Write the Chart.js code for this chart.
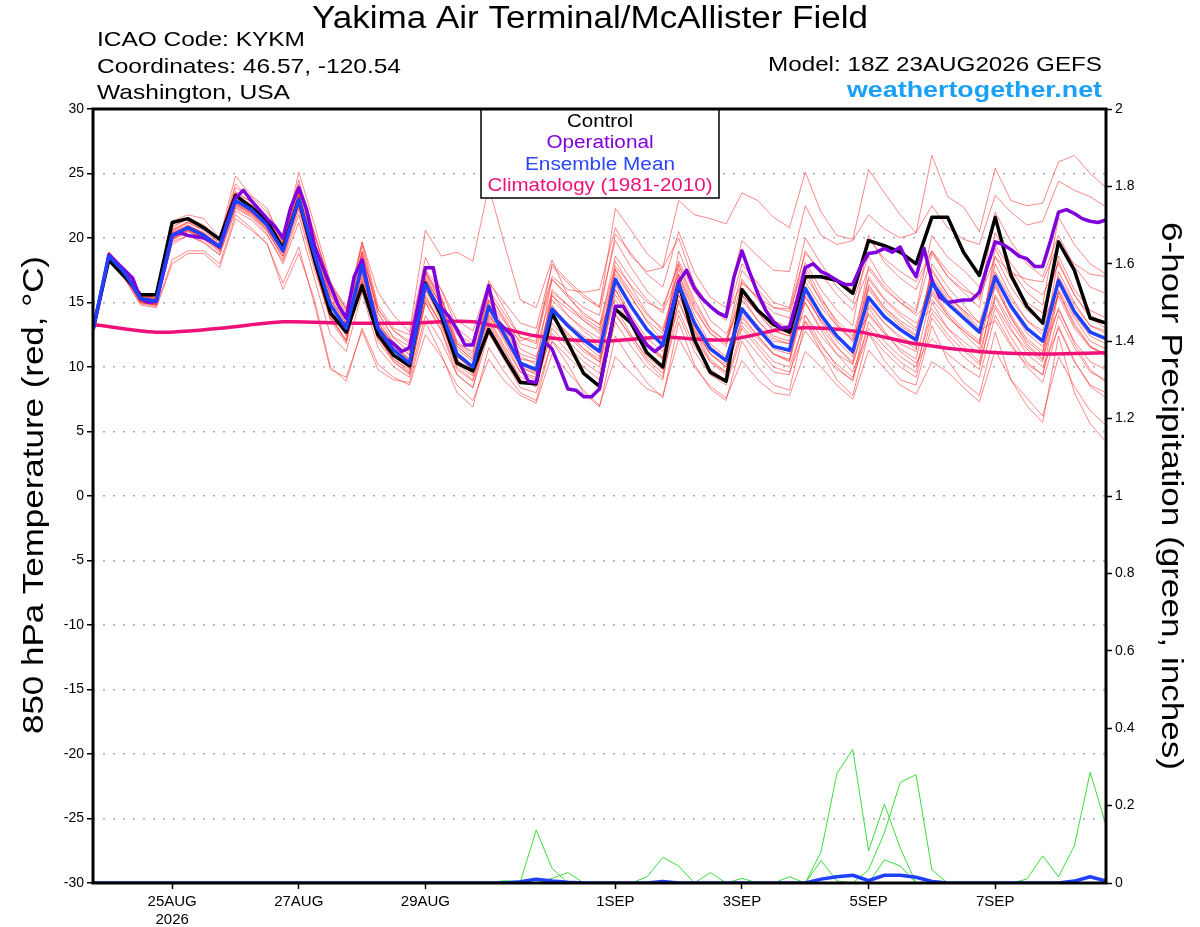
<!DOCTYPE html>
<html>
<head>
<meta charset="utf-8">
<title>KYKM GEFS 850 hPa</title>
<script src="https://cdn.jsdelivr.net/npm/chart.js@4.4.1/dist/chart.umd.min.js"></script>
<style>
  html, body { margin: 0; padding: 0; background: #fff; }
  #wrap { width: 1200px; height: 927px; }
</style>
</head>
<body>
<div id="wrap"><canvas id="chart" width="1200" height="927"></canvas></div>
<script>
// x axis: forecast hours from 18Z 23AUG2026
const tickHours = [30, 78, 126, 198, 246, 294, 342];
const tickLabels = [['25AUG', '2026'], '27AUG', '29AUG', '1SEP', '3SEP', '5SEP', '7SEP'];

// 850 hPa temperature (C), every 6 h
const control = [12.9, 18.3,17.0,15.6,15.6, 21.2,21.5,20.8,19.9, 23.3,22.4,21.3,19.2, 23.0,18.3,14.2,12.7,
  16.3,12.5,10.9,10.1, 16.5,14.0,10.3,9.7, 12.9,10.8,8.8,8.7, 14.2,11.9,9.5,8.5,
  14.5,13.4,11.1,10.0, 16.5,12.1,9.6,8.9, 16.0,14.4,13.3,12.7, 17.0,17.0,16.7,15.7,
  19.8,19.4,18.9,18.0, 21.6,21.6,18.9,17.1, 21.6,17.1,14.7,13.4, 19.7,17.5,13.8,13.4];

const ensMean = [12.9, 18.6,17.3,15.3,15.1, 20.2,20.8,20.2,19.3, 22.9,22.2,21.0,19.0, 23.0,18.7,14.8,13.0,
  17.9,13.0,11.3,10.3, 16.4,14.3,11.0,10.0, 14.7,12.5,10.3,9.8, 14.5,13.2,12.1,11.2,
  16.8,14.7,12.9,11.7, 16.4,13.4,11.4,10.5, 14.5,13.0,11.6,11.3, 16.1,14.0,12.4,11.2,
  15.4,13.9,12.9,12.1, 16.5,14.9,13.8,12.7, 17.0,14.7,13.0,12.0, 16.7,14.3,12.7,12.2];

// operational run, every 3 h
const operational = [12.9,15.7,18.7,18.1,17.5,16.9,15.3,15.0,15.1,17.6,
  20.2,20.4,20.2,20.1,20.0,19.7,19.3,21.3,23.1,23.7,
  22.9,22.2,21.5,20.9,20.0,22.4,23.9,22.2,19.4,17.8,
  16.3,14.8,13.8,17.0,18.3,15.3,13.0,12.2,11.8,11.2,
  11.5,14.6,17.7,17.7,14.6,13.9,12.9,11.7,11.7,14.0,
  16.3,13.6,13.0,12.4,10.2,8.9,8.8,12.0,11.4,9.9,
  8.3,8.2,7.7,7.7,8.3,11.5,14.7,14.7,13.6,12.6,
  11.7,11.2,11.7,14.2,16.6,17.5,16.1,15.3,14.7,14.2,
  13.9,17.0,19.0,17.3,15.7,14.4,13.5,13.0,13.1,15.3,
  17.7,18.0,17.4,17.1,16.7,16.4,16.4,17.8,18.8,18.9,
  19.2,18.9,19.3,18.0,17.0,19.2,16.7,15.4,15.0,15.1,
  15.2,15.2,15.8,17.8,19.7,19.5,19.1,18.6,18.4,17.8,
  17.8,19.8,22.0,22.2,21.9,21.5,21.3,21.2,21.4];

// climatology (1981-2010), daily
const climatology = [13.3, 12.7, 13.0, 13.5, 13.4, 13.4, 13.5, 12.4, 12.0, 12.3, 12.1, 13.0, 12.8, 11.8, 11.2, 11.0, 11.1];

// ensemble members, every 6 h
const memberA = [12.9, 18.8,17.5,15.6,15.4, 20.5,21.2,20.6,19.6, 23.5,22.8,21.6,19.8, 23.8,20.2,16.5,14.4,
  18.8,14.5,12.8,12.0, 17.5,16.0,13.6,12.8, 16.5,15.0,13.4,13.0, 17.8,16.5,15.4,14.6,
  22.3,20.6,18.8,17.7, 22.9,21.8,21.5,21.1, 23.5,22.9,21.6,20.8, 25.1,22.0,20.2,19.9,
  25.3,23.5,21.8,20.4, 26.4,23.2,22.4,20.5, 25.4,22.9,22.5,22.7, 25.9,26.4,25.0,23.9];
const memberB = [12.9, 18.9,17.6,15.5,15.3, 20.7,21.6,21.0,19.9, 24.2,22.9,21.4,19.6, 24.0,19.5,15.6,13.9,
  18.9,14.2,12.3,11.6, 17.3,15.2,12.5,11.8, 16.0,14.1,12.3,12.0, 16.8,15.6,14.6,14.0,
  20.3,18.8,17.2,16.2, 20.5,17.3,15.4,14.6, 19.8,18.6,17.5,17.4, 22.5,20.2,19.5,19.8,
  21.8,20.7,20.0,20.4, 22.5,20.8,19.9,19.5, 23.3,22.0,21.0,21.3, 24.4,23.7,23.2,22.4];
const memberC = [13.0, 18.4,17.0,15.1,14.9, 20.0,20.6,20.0,19.0, 22.6,21.9,20.7,18.8, 22.7,18.5,15.2,13.6,
  19.7,15.8,14.0,12.7, 20.6,18.6,18.9,18.2, 24.0,19.5,15.2,14.6, 18.3,15.5,14.0,13.3,
  17.8,16.3,15.0,14.4, 18.2,15.8,14.6,14.0, 16.5,15.4,14.6,14.5, 18.8,17.5,16.6,16.0,
  20.2,18.1,16.9,16.0, 19.0,17.0,16.0,15.4, 18.5,17.3,16.8,16.6, 19.6,18.0,17.2,17.0];
const memberD = [12.8, 18.3,16.9,14.8,14.6, 18.0,18.8,18.8,17.7, 21.5,20.6,19.6,16.0, 18.8,15.2,10.0,8.9,
  13.0,10.2,9.2,8.6, 12.5,10.8,8.6,7.4, 10.6,8.9,7.8,7.2, 11.0,9.6,8.2,7.0,
  10.8,9.5,8.3,7.8, 12.2,10.0,8.5,7.6, 10.5,9.0,8.0,7.8, 11.2,10.0,8.6,7.5,
  11.3,9.9,8.6,7.9, 10.4,9.6,8.4,7.3, 11.3,9.0,7.6,6.2, 10.8,8.5,6.6,5.5];
const memberE = [12.8, 18.2,16.8,14.9,14.7, 18.3,19.0,19.0,18.0, 21.8,20.8,19.5,16.5, 19.3,14.8,9.8,9.2,
  12.8,9.8,9.0,8.8, 13.5,11.0,8.0,6.9, 11.5,9.6,8.0,7.4, 12.0,10.2,8.0,6.9,
  12.4,10.5,8.8,7.6, 13.5,10.2,8.3,7.4, 12.0,10.0,8.6,8.2, 13.5,11.2,9.0,7.8,
  12.6,10.5,9.0,8.6, 13.2,10.5,8.8,7.8, 12.7,9.0,7.0,5.7, 12.4,8.0,5.6,4.2];
const memberF = [12.9, 18.9,17.6,15.6,15.4, 20.9,21.5,20.9,20.0, 23.9,23.2,22.0,20.0, 24.5,20.2,16.3,14.5,
  19.4,14.5,12.8,11.8, 17.4,15.3,12.0,11.0, 16.7,14.5,12.3,11.8, 18.0,16.7,15.6,14.7,
  19.8,17.7,15.9,14.7, 17.9,14.9,12.9,12.0, 17.5,16.0,14.6,14.3, 18.1,16.0,14.4,13.2,
  19.9,18.4,17.4,16.6, 19.0,17.4,16.3,15.2, 22.0,19.7,18.0,17.0, 20.2,17.8,16.2,15.7];
const memberG = [12.9, 18.4,17.1,15.0,14.8, 19.5,20.2,19.6,18.7, 22.1,21.4,20.2,18.2, 21.8,17.5,13.8,12.1,
  16.6,12.0,10.4,9.5, 15.0,12.9,9.8,8.9, 13.2,11.0,8.9,8.5, 13.0,11.6,10.4,9.5,
  14.6,12.5,10.6,9.5, 14.0,11.2,9.4,8.6, 12.5,11.0,9.6,9.4, 14.0,11.8,10.0,8.9,
  13.5,12.0,10.8,10.0, 14.2,12.5,11.3,10.2, 14.6,12.3,10.4,9.4, 14.0,11.5,9.6,9.0];
const memberH = [12.9, 18.7,17.4,15.4,15.2, 20.4,21.0,20.4,19.5, 23.3,22.6,21.4,19.5, 23.6,19.3,15.5,13.6,
  18.6,13.5,11.5,10.6, 16.0,13.6,10.2,9.3, 13.6,11.4,9.0,8.5, 15.5,14.5,13.6,12.8,
  17.5,15.5,13.5,12.0, 18.0,15.2,13.0,12.0, 15.5,13.6,12.2,11.8, 17.5,15.0,13.2,12.0,
  14.0,12.6,11.8,11.2, 18.0,16.2,14.8,13.4, 16.2,13.8,12.0,11.0, 18.6,16.0,14.4,13.8];
const memberI = [12.9, 18.5,17.2,15.2,15.0, 20.0,20.6,20.0,19.1, 22.6,21.9,20.6,18.6, 22.5,18.2,14.2,12.4,
  17.5,12.6,10.8,9.9, 16.8,14.8,11.4,10.4, 15.8,13.6,11.4,10.8, 13.8,12.4,11.2,10.4,
  15.6,13.6,11.8,10.8, 15.0,12.2,10.4,9.6, 15.6,14.2,12.8,12.4, 15.0,13.0,11.5,10.4,
  16.4,14.6,13.4,12.5, 15.6,14.0,12.8,11.8, 18.0,15.5,13.6,12.5, 15.5,13.0,11.5,11.0];
const memberJ = [12.9, 18.6,17.3,15.3,15.1, 20.3,20.9,20.3,19.4, 22.8,22.1,20.8,19.0, 23.3,19.0,15.0,13.2,
  17.2,12.8,11.0,10.0, 15.6,13.2,10.5,9.6, 14.2,12.0,9.6,9.2, 16.0,14.8,13.6,12.6,
  16.0,13.8,11.9,10.7, 16.5,13.0,11.0,10.0, 13.5,12.2,11.0,10.5, 15.5,13.6,12.0,10.8,
  17.0,15.3,14.2,13.4, 14.5,13.0,12.0,11.0, 15.6,13.4,11.6,10.6, 17.4,15.0,13.2,12.6];
const memberK = [12.9, 18.5,17.1,15.1,14.9, 19.7,20.2,19.7,18.7, 22.3,21.6,20.3,18.0, 21.2,16.8,12.5,11.2,
  15.8,11.5,10.0,9.2, 14.0,12.0,9.4,8.4, 12.6,10.5,8.4,8.0, 12.0,10.8,9.6,8.6,
  13.5,11.6,10.0,9.0, 15.2,12.2,9.8,8.8, 13.0,11.5,10.0,9.6, 12.8,11.2,9.8,9.0,
  14.6,12.8,11.2,10.3, 12.2,11.0,10.0,9.2, 14.0,11.8,10.0,8.8, 13.2,10.5,8.5,7.6];
const memberL = [13.0, 18.8,17.5,15.6,15.3, 21.3,21.8,21.5,20.0, 24.8,23.3,22.3,19.6, 25.1,21.0,16.6,14.6,
  19.7,14.8,13.0,12.5, 18.5,16.0,13.0,12.0, 15.2,13.5,12.0,12.5, 17.0,16.0,15.8,16.0,
  20.8,18.6,17.4,17.7, 20.0,16.4,14.6,13.6, 18.0,16.5,15.0,14.6, 20.0,18.0,16.2,15.0,
  18.6,16.5,15.3,14.4, 20.2,18.5,17.5,16.2, 19.5,17.5,15.8,14.8, 21.6,19.5,18.0,17.2];
const memberM = [12.9, 18.6,17.3,15.3,15.0, 19.8,20.5,20.0,19.2, 23.0,22.0,20.8,18.9, 22.8,18.2,14.0,12.0,
  18.4,13.8,11.9,10.9, 17.2,15.0,11.6,10.6, 14.0,12.2,10.0,9.5, 14.8,13.2,11.8,10.8,
  18.2,16.2,14.2,12.8, 16.0,12.8,10.6,9.6, 14.6,13.2,12.0,11.8, 16.6,14.6,13.2,12.2,
  15.0,13.4,12.2,11.4, 17.6,15.6,14.4,13.0, 14.8,12.8,11.4,10.4, 16.0,13.8,12.0,11.4];
const memberN = [12.9, 18.4,17.0,15.0,14.8, 20.1,20.7,20.1,19.2, 22.7,22.0,20.9,19.2, 22.4,18.0,14.4,12.6,
  17.0,12.4,10.6,9.6, 15.4,13.3,10.0,9.0, 13.0,10.8,8.8,8.6, 14.0,12.6,11.4,10.4,
  14.0,12.4,10.8,9.8, 17.2,14.0,11.8,10.8, 14.0,12.4,11.0,10.4, 15.0,12.8,11.0,9.6,
  13.0,11.6,10.4,9.6, 15.0,13.0,11.6,10.4, 16.4,13.8,11.8,10.6, 14.6,11.8,9.8,8.8];
const memberO = [12.9, 18.7,17.3,15.2,15.0, 20.3,20.8,20.3,19.3, 23.0,22.3,21.1,19.3, 23.2,19.0,15.2,13.4,
  18.2,13.2,11.6,10.6, 17.0,14.8,11.6,10.6, 15.2,13.0,11.0,10.6, 15.2,14.0,13.0,12.2,
  17.2,15.4,13.6,12.6, 17.6,14.6,12.6,11.6, 16.0,14.4,13.0,12.6, 17.0,15.2,13.6,12.4,
  16.8,15.2,14.0,13.0, 17.0,15.4,14.4,13.4, 17.4,15.2,13.6,12.8, 17.0,14.8,13.2,12.8];
const memberP = [12.9, 18.9,17.6,15.5,15.2, 20.6,21.2,20.6,19.6, 23.5,22.5,21.2,19.4, 23.9,19.6,15.8,14.0,
  16.6,12.2,10.6,9.8, 15.2,13.4,10.8,10.0, 14.0,12.4,10.6,10.4, 16.8,15.4,14.2,13.3,
  15.2,13.2,11.6,10.6, 15.6,12.8,11.0,10.2, 15.2,13.6,12.4,12.0, 17.8,15.4,13.4,12.0,
  16.2,14.6,13.6,12.8, 16.0,14.2,13.0,12.0, 18.6,16.2,14.4,13.4, 16.4,14.0,12.4,11.8];
const memberQ = [12.9, 18.5,17.2,15.2,15.0, 20.2,20.9,20.4,19.4, 22.9,22.3,21.0,19.2, 22.9,18.9,15.2,13.4,
  18.0,13.2,11.4,10.5, 16.0,14.0,10.8,9.8, 14.4,12.2,10.0,9.4, 13.4,12.0,10.8,10.0,
  16.4,14.0,12.2,11.2, 14.4,11.6,9.8,9.0, 16.8,15.2,13.6,13.0, 14.0,12.4,11.0,10.2,
  14.8,13.4,12.4,11.6, 16.8,15.2,14.0,12.8, 13.6,11.6,10.2,9.4, 15.8,13.2,11.6,11.0];
const memberR = [12.9, 18.6,17.2,15.1,14.9, 20.1,20.7,20.1,19.1, 23.1,22.4,21.2,19.1, 23.4,18.6,14.4,12.7,
  18.2,13.4,11.8,10.6, 17.4,15.5,11.8,10.8, 15.0,12.6,10.2,9.6, 15.6,14.0,12.8,11.8,
  17.6,15.8,14.0,13.0, 17.0,13.6,11.6,10.6, 15.6,14.2,12.8,12.4, 16.2,14.0,12.4,11.0,
  16.0,14.4,13.2,12.4, 17.4,15.6,14.2,12.8, 16.6,14.0,12.2,11.2, 15.8,13.4,11.6,10.8];
const memberS = [12.9, 18.7,17.4,15.4,15.1, 20.4,21.0,20.3,19.4, 22.7,22.0,20.9,19.1, 23.5,19.2,15.6,13.8,
  19.0,14.2,12.2,11.2, 16.4,14.0,10.8,9.8, 14.8,12.8,10.8,10.2, 14.6,13.4,12.4,11.6,
  16.6,14.6,12.8,11.6, 19.0,16.0,13.6,12.6, 14.2,12.8,11.4,11.0, 15.4,13.6,12.2,11.4,
  17.8,16.2,15.0,14.0, 15.2,13.8,12.8,11.8, 19.2,16.8,15.0,14.2, 18.2,15.6,13.8,13.0];
const memberT = [12.9, 18.5,17.1,15.2,15.0, 19.9,20.6,20.1,19.2, 22.5,21.8,20.6,18.4, 22.2,17.8,13.6,11.8,
  17.6,12.8,11.0,10.1, 16.2,14.2,10.6,9.4, 13.8,11.6,9.6,9.0, 13.8,12.6,11.4,10.6,
  16.0,13.8,11.8,10.6, 15.6,12.6,10.4,9.4, 13.8,12.4,11.0,10.6, 15.8,13.4,11.6,10.2,
  14.2,12.6,11.4,10.6, 15.8,14.0,12.6,11.4, 17.2,14.6,12.6,11.6, 14.4,12.0,10.4,9.8];
const memberU = [12.9, 18.8,17.5,15.5,15.3, 20.6,21.3,20.8,19.8, 23.6,22.8,21.5,19.7, 24.2,20.4,16.2,14.2,
  18.0,13.4,11.8,11.0, 16.8,14.8,11.8,11.2, 15.6,13.8,11.8,11.4, 15.8,14.8,13.8,13.0,
  18.6,16.8,15.2,14.2, 17.2,14.4,12.6,11.8, 16.6,15.4,14.2,13.8, 19.0,17.2,15.6,14.4,
  17.6,16.0,15.0,14.2, 18.8,17.0,15.8,14.6, 20.4,18.0,16.4,15.6, 18.0,15.6,14.0,13.4];
const memberV = [12.9, 18.4,17.1,15.0,14.8, 19.9,20.5,19.9,18.9, 22.4,21.7,20.5,18.6, 22.6,18.0,13.8,12.0,
  16.8,12.4,10.4,9.4, 15.0,12.8,9.4,8.4, 13.4,11.2,9.2,8.8, 12.6,11.2,10.0,9.0,
  14.2,12.2,10.4,9.2, 16.2,13.2,11.0,10.0, 13.2,11.8,10.4,10.0, 13.6,11.6,10.2,9.2,
  12.6,11.2,10.0,9.2, 13.8,12.2,10.8,9.8, 15.4,13.0,11.0,10.0, 13.0,10.4,8.6,8.0];

// 6-hour precipitation (inches), every 6 h
const precipA = [0,0,0,0,0,0,0,0,0,0,0,0,0,
  0,0,0,0,0,0,0,0,0,0,0,0,0,
  0.006,0.003,0.137,0.038,0,0,0,0,0,0.016,0.066,0.044,0,
  0.027,0,0.012,0,0,0.016,0,0.081,0.283,0.345,0.083,0.204,0.09,
  0,0,0,0,0,0,0,0,0,0,0,0,0];
const precipB = [0,0,0,0,0,0,0,0,0,0,0,0,0,
  0,0,0,0,0,0,0,0,0,0,0,0,0,
  0,0,0,0,0,0,0,0,0,0,0,0,0,
  0,0,0,0,0,0,0,0,0,0,0.034,0.13,0.26,
  0.28,0.034,0,0,0,0,0,0,0,0,0,0,0];
const precipC = [0,0,0,0,0,0,0,0,0,0,0,0,0,
  0,0,0,0,0,0,0,0,0,0,0,0,0,
  0,0,0,0.012,0.027,0,0,0,0,0,0,0,0,
  0,0,0,0,0,0,0,0.058,0.005,0,0,0.06,0.044,
  0,0,0,0,0,0,0,0,0,0,0,0,0];
const precipD = [0,0,0,0,0,0,0,0,0,0,0,0,0,
  0,0,0,0,0,0,0,0,0,0,0,0,0,
  0,0,0,0,0,0,0,0,0,0,0,0,0,
  0,0,0,0,0,0,0,0,0,0,0,0,0,
  0,0,0,0,0,0,0,0.01,0.07,0.016,0.096,0.286,0.15];
const precipMean = [0,0,0,0,0,0,0,0,0,0,0,0,0,
  0,0,0,0,0,0,0,0,0,0,0,0,0,
  0,0.003,0.01,0.005,0.002,0,0,0,0,0,0.004,0,0,
  0,0,0,0,0,0,0,0.01,0.016,0.02,0.006,0.02,0.02,
  0.015,0.004,0,0,0,0,0,0,0,0,0.005,0.016,0.005];

const members = [memberA, memberB, memberC, memberD, memberE, memberF, memberG, memberH, memberI,
  memberJ, memberK, memberL, memberM, memberN, memberO, memberP, memberQ,
  memberR, memberS, memberT, memberU, memberV];
const precipMembers = [precipA, precipB, precipC, precipD];

const FONT = '"Liberation Sans", Arial, Helvetica, sans-serif';
Chart.defaults.font.family = FONT;
Chart.defaults.color = '#000';

const hours6 = control.map((_, i) => i * 6);
const hours3 = operational.map((_, j) => j * 3);
const hours24 = climatology.map((_, d) => d * 24);
const pts = (vals, hrs) => vals.map((v, i) => ({ x: hrs[i], y: v }));

const datasets = [];
datasets.push({ data: pts(ensMean, hours6), borderColor: '#2040ff', borderWidth: 3.5, yAxisID: 'y', order: 0 });
datasets.push({ data: pts(operational, hours3), borderColor: '#8000dc', borderWidth: 3.5, yAxisID: 'y', order: 1 });
datasets.push({ data: pts(control, hours6), borderColor: '#000', borderWidth: 3.5, yAxisID: 'y', order: 2 });
datasets.push({ data: pts(climatology, hours24), borderColor: '#f0107a', borderWidth: 3.5, tension: 0.3, yAxisID: 'y', order: 3 });
datasets.push({ data: pts(precipMean, hours6), borderColor: '#2040ff', borderWidth: 3.5, yAxisID: 'y1', order: 4 });
precipMembers.forEach(p => {
  datasets.push({ data: pts(p, hours6), borderColor: 'rgb(60, 220, 60)', borderWidth: 1, yAxisID: 'y1', order: 5 });
});
members.forEach(m => {
  datasets.push({ data: pts(m, hours6), borderColor: 'rgba(255, 40, 40, 0.55)', borderWidth: 1, yAxisID: 'y', order: 6 });
});
datasets.forEach(d => { d.pointRadius = 0; d.fill = false; d.borderJoinStyle = 'round'; });

// text squeezed/stretched to the width it has in the picture
function fitText(ctx, str, x, y, size, width, opts) {
  opts = opts || {};
  ctx.save();
  ctx.font = (opts.bold ? 'bold ' : '') + size + 'px ' + FONT;
  ctx.fillStyle = opts.color || '#000';
  ctx.textBaseline = 'alphabetic';
  ctx.textAlign = 'left';
  const w = ctx.measureText(str).width;
  ctx.translate(x, y);
  if (opts.angle) ctx.rotate(opts.angle);
  ctx.scale(width / w, 1);
  let start = 0;
  if (opts.align === 'center') start = -w / 2;
  else if (opts.align === 'right') start = -w;
  ctx.fillText(str, start, 0);
  ctx.restore();
}

const decor = {
  id: 'decor',
  beforeDraw(chart) {
    const ctx = chart.ctx;
    ctx.save();
    ctx.fillStyle = '#fff';
    ctx.fillRect(0, 0, chart.width, chart.height);
    ctx.restore();
  },
  afterDatasetsDraw(chart) {
    const ctx = chart.ctx;
    const a = chart.chartArea;

    // legend box
    ctx.save();
    ctx.fillStyle = '#fff';
    ctx.fillRect(481, a.top, 238, 89);
    ctx.lineWidth = 1.5;
    ctx.strokeStyle = '#000';
    ctx.strokeRect(481, a.top, 238, 89);
    ctx.restore();
    fitText(ctx, 'Control', 600, 127, 18, 66, { align: 'center' });
    fitText(ctx, 'Operational', 600, 148, 18, 107, { align: 'center', color: '#8000dc' });
    fitText(ctx, 'Ensemble Mean', 600, 170, 18, 150, { align: 'center', color: '#2a45ff' });
    fitText(ctx, 'Climatology (1981-2010)', 600, 191, 18, 225, { align: 'center', color: '#f0107a' });

    // plot frame
    ctx.save();
    ctx.lineWidth = 3;
    ctx.strokeStyle = '#000';
    ctx.strokeRect(a.left, a.top, a.right - a.left, a.bottom - a.top);
    ctx.restore();

    // header
    fitText(ctx, 'Yakima Air Terminal/McAllister Field', 590, 28, 31, 556, { align: 'center' });
    fitText(ctx, 'ICAO Code: KYKM', 97, 46, 21, 208);
    fitText(ctx, 'Coordinates: 46.57, -120.54', 97, 73, 21, 304);
    fitText(ctx, 'Washington, USA', 97, 99, 21, 193);
    fitText(ctx, 'Model: 18Z 23AUG2026 GEFS', 1102, 71, 21, 334, { align: 'right' });
    fitText(ctx, 'weathertogether.net', 1102, 97, 22, 255, { align: 'right', bold: true, color: '#1aa0f8' });

    // axis titles
    fitText(ctx, '850 hPa Temperature (red, \u00B0C)', 43, 495, 30, 478, { align: 'center', angle: -Math.PI / 2 });
    fitText(ctx, '6-hour Precipitation (green, inches)', 1162, 496, 30, 548, { align: 'center', angle: Math.PI / 2 });
  }
};

new Chart(document.getElementById('chart'), {
  type: 'line',
  data: { datasets },
  options: {
    responsive: false,
    animation: false,
    events: [],
    layout: { padding: { top: 109, left: 0, right: 0, bottom: 0 } },
    plugins: { legend: { display: false }, tooltip: { enabled: false } },
    scales: {
      x: {
        type: 'linear',
        min: 0,
        max: 384,
        afterBuildTicks: s => { s.ticks = tickHours.map(v => ({ value: v })); },
        afterFit: s => { s.height = 44; },
        ticks: {
          callback: v => tickLabels[tickHours.indexOf(v)],
          autoSkip: false,
          maxRotation: 0,
          padding: 3,
          font: { size: 15, lineHeight: 1.25 },
          color: '#000'
        },
        grid: { drawOnChartArea: false, tickLength: 6, tickColor: '#000', tickWidth: 1.5 },
        border: { display: false }
      },
      y: {
        position: 'left',
        min: -30,
        max: 30,
        afterFit: s => { s.width = 93; },
        ticks: { stepSize: 5, padding: 3, font: { size: 14 }, color: '#000' },
        grid: { color: '#a8a8a8', lineWidth: 1.5, tickLength: 6, tickColor: '#000', tickWidth: 1.5 },
        border: { display: false, dash: [2, 8] }
      },
      y1: {
        position: 'right',
        min: 0,
        max: 2,
        afterFit: s => { s.width = 94; },
        ticks: {
          stepSize: 0.2,
          padding: 3,
          font: { size: 14 },
          color: '#000',
          callback: v => String(Math.round(v * 10) / 10)
        },
        grid: { drawOnChartArea: false, tickLength: 6, tickColor: '#000', tickWidth: 1.5 },
        border: { display: false }
      }
    }
  },
  plugins: [decor]
});
</script>
</body>
</html>
